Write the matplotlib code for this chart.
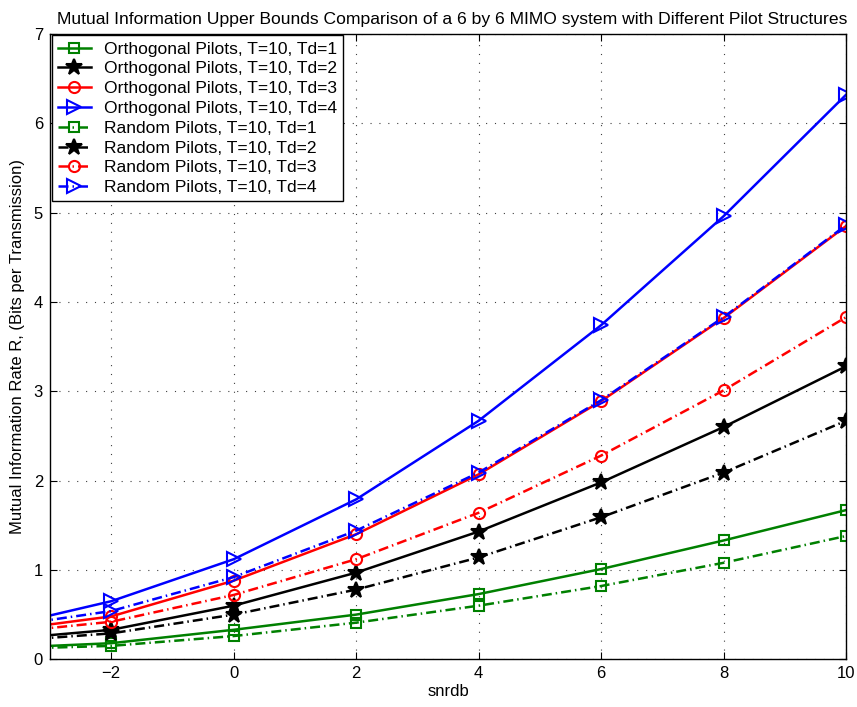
import matplotlib
matplotlib.use("Agg")
import matplotlib.pyplot as plt

plt.rcParams["font.family"] = ["Liberation Sans", "DejaVu Sans"]

# SNR in dB (axis clipped at -3)
snrdb = [-4, -2, 0, 2, 4, 6, 8, 10]

orth_td1 = [0.12, 0.18, 0.33, 0.50, 0.73, 1.01, 1.33, 1.67]
orth_td2 = [0.21, 0.33, 0.60, 0.97, 1.43, 1.98, 2.60, 3.28]
orth_td3 = [0.30, 0.48, 0.88, 1.40, 2.07, 2.89, 3.82, 4.85]
orth_td4 = [0.33, 0.65, 1.12, 1.79, 2.67, 3.74, 4.96, 6.32]

rand_td1 = [0.11, 0.15, 0.26, 0.41, 0.60, 0.82, 1.08, 1.38]
rand_td2 = [0.19, 0.29, 0.50, 0.78, 1.14, 1.59, 2.09, 2.67]
rand_td3 = [0.28, 0.42, 0.72, 1.12, 1.64, 2.28, 3.01, 3.83]
rand_td4 = [0.34, 0.54, 0.92, 1.44, 2.09, 2.90, 3.83, 4.86]

colors = ["#008000", "black", "red", "blue"]
markers = ["s", "*", "o", ">"]
msizes = [6.5, 12, 8, 9.5]

fig = plt.figure(figsize=(8.57, 7.07), dpi=100)
ax = fig.add_axes([0.0583, 0.0675, 0.9289, 0.8844])

dashdot = (0, (4, 1.6, 0.6, 1.6))
for i, ys in enumerate([orth_td1, orth_td2, orth_td3, orth_td4]):
    filled = markers[i] == "*"
    ax.plot(snrdb, ys, color=colors[i], lw=1.8, marker=markers[i], ms=msizes[i],
            mfc=colors[i] if filled else "none", mew=1.5,
            label=f"Orthogonal Pilots, T=10, Td={i + 1}")
for i, ys in enumerate([rand_td1, rand_td2, rand_td3, rand_td4]):
    filled = markers[i] == "*"
    ax.plot(snrdb, ys, color=colors[i], lw=1.8, ls=dashdot, marker=markers[i], ms=msizes[i],
            mfc=colors[i] if filled else "none", mew=1.5,
            label=f"Random Pilots, T=10, Td={i + 1}")

ax.set_xlim(-3, 10)
ax.set_ylim(0, 7)
ax.set_xticks([-2, 0, 2, 4, 6, 8, 10])
ax.set_yticks(range(0, 8))
ax.grid(True, ls=(0, (1, 7)), color="#404040", lw=0.8)
ax.tick_params(direction="in", top=True, right=True, labelsize=12, length=5, pad=5)
for s in ax.spines.values():
    s.set_linewidth(1.0)

ax.set_xlabel("snrdb", fontsize=12, labelpad=2)
ax.set_ylabel("Mutual Information Rate R, (Bits per Transmission)", fontsize=12, labelpad=6)
ax.set_title("Mutual Information Upper Bounds Comparison of a 6 by 6 MIMO system "
             "with Different Pilot Structures", fontsize=12.6, pad=7, x=0.505)

leg = ax.legend(loc="upper left", bbox_to_anchor=(0.002, 0.998), fontsize=12.6,
                handlelength=1.9, labelspacing=0.26, borderpad=0.35,
                handletextpad=0.75, borderaxespad=0.0, fancybox=False,
                framealpha=1, edgecolor="black")
leg.get_frame().set_linewidth(1.0)

fig.savefig("out.png", dpi=100)
